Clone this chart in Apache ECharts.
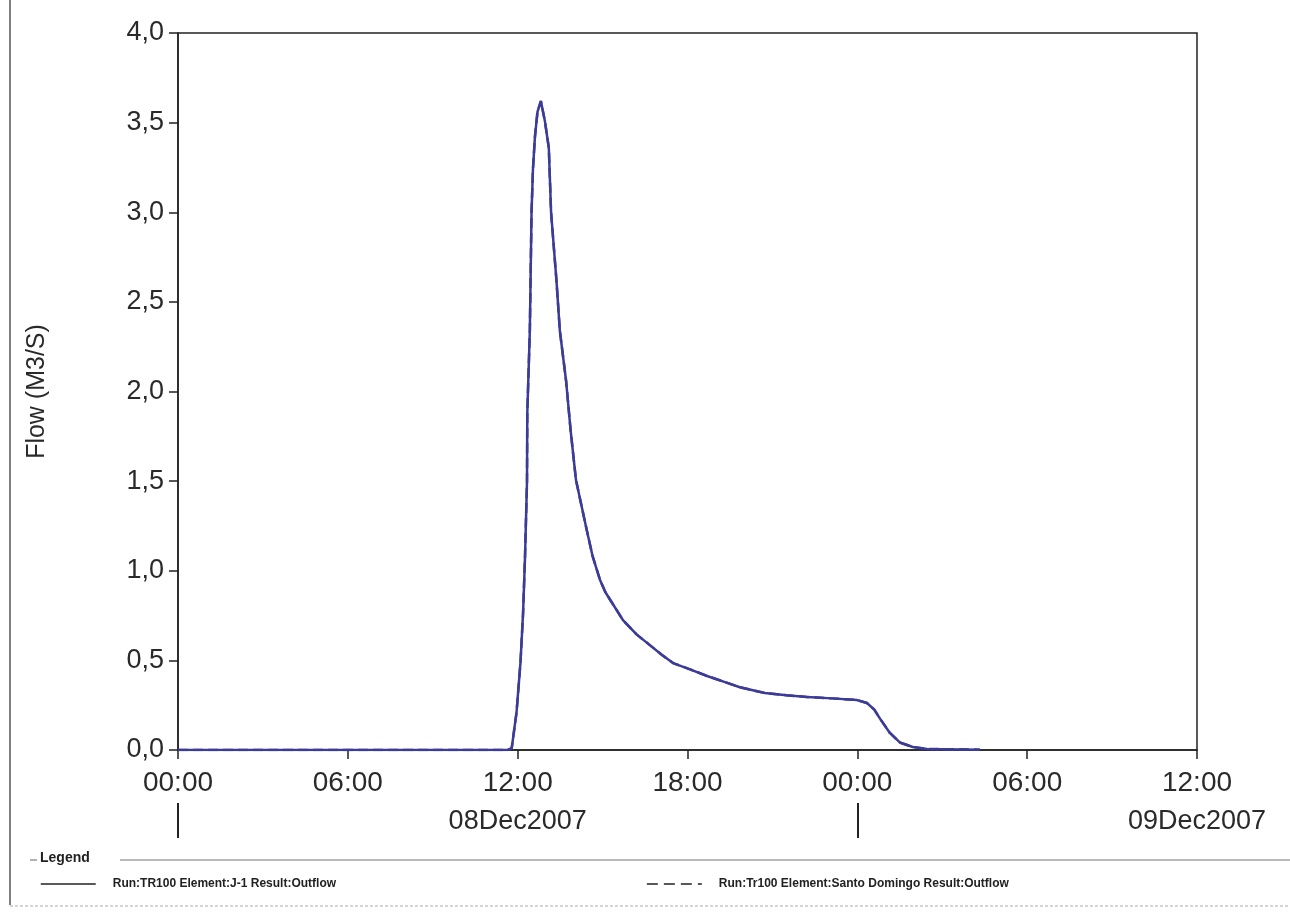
<!DOCTYPE html>
<html>
<head>
<meta charset="utf-8">
<script src="https://cdn.jsdelivr.net/npm/echarts@6/dist/echarts.min.js"></script>
<style>
html,body{margin:0;padding:0;background:#fff;}
#chart{width:1290px;height:915px;}
</style>
</head>
<body>
<div id="chart"></div>
<script>
// hours after 08Dec2007 00:00
const hours = [0, 11.65, 11.79, 11.96, 12.10, 12.19, 12.26, 12.33, 12.34, 12.43, 12.49, 12.54, 12.61, 12.70, 12.82,
  12.96, 13.10, 13.18, 13.37, 13.49, 13.71, 13.87, 14.06, 14.44, 14.65, 14.91, 15.10, 15.30, 15.72, 16.20, 16.67, 17.10, 17.49,
  18.09, 18.69, 19.30, 19.85, 20.73, 21.50, 22.22, 23.10, 23.98, 24.34, 24.60, 24.80, 25.15, 25.50, 25.96, 26.46, 28.33];
const flow = [0, 0, 0.01, 0.21, 0.49, 0.76, 1.08, 1.50, 1.88, 2.34, 3.00, 3.24, 3.42, 3.56, 3.62,
  3.51, 3.36, 3.00, 2.62, 2.34, 2.06, 1.785, 1.506, 1.227, 1.08, 0.948, 0.88, 0.83, 0.725, 0.645, 0.585, 0.53, 0.485,
  0.45, 0.413, 0.38, 0.35, 0.318, 0.305, 0.296, 0.288, 0.279, 0.262, 0.225, 0.175, 0.095, 0.042, 0.017, 0.006, 0.002];
const timeTicks = [0, 6, 12, 18, 24, 30, 36];
const timeLabels = ['00:00', '06:00', '12:00', '18:00', '00:00', '06:00', '12:00'];
const dayLabelHours = [12, 36];
const dayLabels = ['08Dec2007', '09Dec2007'];
const dayBoundaryHours = [0, 24];
const seriesNames = ['Run:TR100 Element:J-1 Result:Outflow', 'Run:Tr100 Element:Santo Domingo Result:Outflow'];

const pts = hours.map((h, i) => [h, flow[i]]);
const chart = echarts.init(document.getElementById('chart'));
const FONT = '"Liberation Sans", Arial, sans-serif';
const NARROW = '"Liberation Sans Narrow", "Liberation Sans", Arial, sans-serif';

chart.setOption({
  animation: false,
  backgroundColor: '#fff',
  grid: { left: 178, right: 93, top: 33, bottom: 165, show: true, borderColor: '#222', borderWidth: 1.5, backgroundColor: 'transparent' },
  xAxis: [{
    type: 'value', min: 0, max: 36, interval: 6,
    axisLine: { show: true, lineStyle: { color: '#222', width: 1.5 } },
    axisTick: { show: true, inside: false, length: 9, lineStyle: { color: '#222', width: 1.5 } },
    splitLine: { show: false },
    axisLabel: { margin: 19, fontSize: 28, color: '#2a2a2a', fontFamily: FONT,
      formatter: v => timeLabels[timeTicks.indexOf(v)] || '' }
  }, {
    type: 'value', min: 0, max: 36, position: 'bottom', offset: 53,
    axisLine: { show: false },
    axisTick: { show: true, customValues: dayBoundaryHours, length: 35, inside: false, lineStyle: { color: '#222', width: 2 } },
    splitLine: { show: false },
    axisLabel: { customValues: dayLabelHours, margin: 5, fontSize: 27, color: '#2a2a2a', fontFamily: FONT,
      formatter: v => dayLabels[dayLabelHours.indexOf(v)] || '' }
  }],
  yAxis: {
    type: 'value', min: 0, max: 4, interval: 0.5,
    name: 'Flow (M3/S)', nameLocation: 'middle', nameGap: 128,
    nameTextStyle: { fontSize: 25, color: '#2a2a2a', fontFamily: FONT },
    axisLine: { show: true, lineStyle: { color: '#222', width: 1.5 } },
    axisTick: { show: true, inside: false, length: 9, lineStyle: { color: '#222', width: 1.5 } },
    splitLine: { show: false },
    axisLabel: { margin: 14, fontSize: 27, color: '#2a2a2a', fontFamily: FONT,
      formatter: v => v.toFixed(1).replace('.', ',') }
  },
  legend: {
    left: 35, top: 873, itemWidth: 55, itemHeight: 10, itemGap: 310,
    textStyle: { fontSize: 12, fontWeight: 'bold', color: '#222', fontFamily: NARROW, padding: [0, 0, 0, 12] },
    data: [
      { name: seriesNames[0], itemStyle: { opacity: 0 }, lineStyle: { color: '#222', width: 1.5, type: 'solid' } },
      { name: seriesNames[1], itemStyle: { opacity: 0 }, lineStyle: { color: '#222', width: 1.5, type: [11, 6] } }
    ]
  },
  graphic: [
    { type: 'line', shape: { x1: 10, y1: 0, x2: 10, y2: 905 }, style: { stroke: '#555', lineWidth: 1.5 } },
    { type: 'text', left: 40, top: 851, style: { text: 'Legend', font: 'bold 14px ' + NARROW, fill: '#222' } },
    { type: 'line', shape: { x1: 30, y1: 860, x2: 37, y2: 860 }, style: { stroke: '#666', lineWidth: 1 } },
    { type: 'line', shape: { x1: 120, y1: 860, x2: 1290, y2: 860 }, style: { stroke: '#777', lineWidth: 1.2 } },
    { type: 'line', shape: { x1: 10, y1: 906, x2: 1290, y2: 906 }, style: { stroke: '#aaa', lineWidth: 1, lineDash: [3, 2] } }
  ],
  series: [{
    name: seriesNames[1], type: 'line', data: pts, symbol: 'none', smooth: false, z: 1,
    lineStyle: { color: '#3c3c98', width: 2.5, type: 'dashed' }
  }, {
    name: seriesNames[0], type: 'line', data: pts, symbol: 'none', smooth: false, z: 2,
    lineStyle: { color: '#3c3c98', width: 2.5 }
  }]
});
</script>
</body>
</html>
